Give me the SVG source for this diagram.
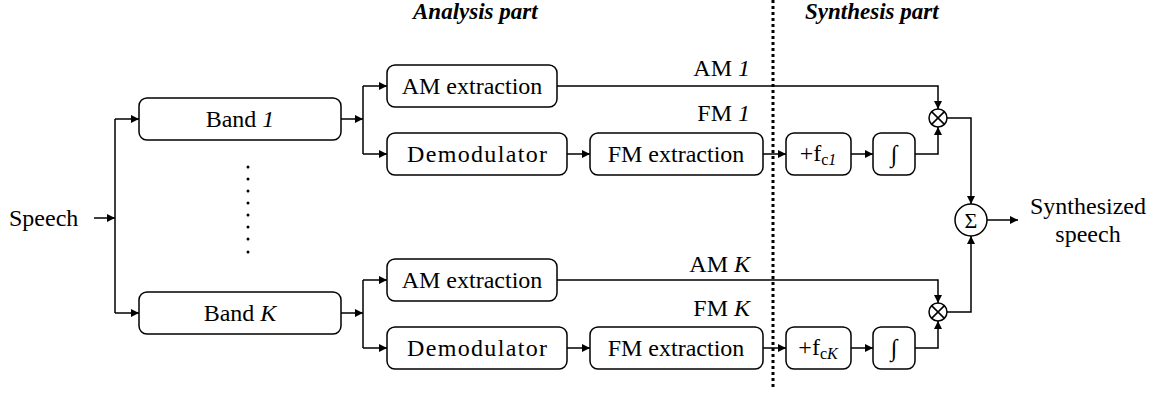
<svg xmlns="http://www.w3.org/2000/svg" width="1156" height="394" viewBox="0 0 1156 394">
<defs>
<marker id="arr" viewBox="0 0 10 10" refX="10" refY="5" markerWidth="8" markerHeight="8" markerUnits="userSpaceOnUse" orient="auto">
<path d="M0,0 L10,5 L0,10 z" fill="#000"/>
</marker>
<style>
.box{fill:#fff;stroke:#000;stroke-width:1.5}
.t{font-family:'Liberation Serif','Times New Roman',serif;font-size:24px;fill:#000}
.c{text-anchor:middle;dominant-baseline:central}
.m{text-anchor:middle}
.r{text-anchor:end}
.h{font-weight:bold;font-style:italic;font-size:23px}
.i{font-style:italic}
.s{font-size:16px}
.ln{fill:none;stroke:#000;stroke-width:1.5}
.a{marker-end:url(#arr)}
</style>
</defs>
<rect width="1156" height="394" fill="#fff"/>
<text class="t h" x="413" y="19">Analysis part</text>
<text class="t h" x="805" y="19">Synthesis part</text>
<line x1="773" y1="0" x2="773" y2="390" stroke="#000" stroke-width="3" stroke-dasharray="3,3"/>
<g id="connectors">
<path class="ln a" d="M94,218 H115"/>
<path class="ln" d="M115,119 V313"/>
<path class="ln a" d="M115,119 H139"/>
<path class="ln a" d="M115,313 H139"/>
<path class="ln a" d="M341,119 H363"/>
<path class="ln" d="M363,86 V154"/>
<path class="ln a" d="M363,86 H387"/>
<path class="ln a" d="M363,154 H387"/>
<path class="ln a" d="M567,154 H590"/>
<path class="ln a" d="M763,154 H786"/>
<path class="ln a" d="M851,154 H873"/>
<path class="ln a" d="M915,154 H938 V127"/>
<path class="ln a" d="M557,86 H938 V109"/>
<path class="ln a" d="M947,118 H971 V204"/>
<path class="ln a" d="M341,313 H363"/>
<path class="ln" d="M363,280 V348"/>
<path class="ln a" d="M363,280 H387"/>
<path class="ln a" d="M363,348 H387"/>
<path class="ln a" d="M567,348 H590"/>
<path class="ln a" d="M763,348 H786"/>
<path class="ln a" d="M851,348 H873"/>
<path class="ln a" d="M915,348 H938 V321"/>
<path class="ln a" d="M557,280 H938 V303"/>
<path class="ln a" d="M947,312 H971 V236"/>
<path class="ln a" d="M987,220 H1018"/>
</g>
<g id="labels">
<text class="t r" x="750" y="76">AM <tspan class="i">1</tspan></text>
<text class="t r" x="750" y="121">FM <tspan class="i">1</tspan></text>
<text class="t r" x="750" y="272">AM <tspan class="i">K</tspan></text>
<text class="t r" x="750" y="316">FM <tspan class="i">K</tspan></text>
</g>
<g id="speech"><text class="t" x="9" y="226">Speech</text></g>
<g id="dots" fill="#000">
<circle cx="248" cy="167" r="1.5"/><circle cx="248" cy="179" r="1.5"/><circle cx="248" cy="191" r="1.5"/><circle cx="248" cy="203" r="1.5"/><circle cx="248" cy="215" r="1.5"/><circle cx="248" cy="227" r="1.5"/><circle cx="248" cy="239" r="1.5"/><circle cx="248" cy="252" r="1.5"/>
</g>
<g id="band1"><rect class="box" x="139" y="98" width="202" height="42" rx="8"/><text class="t c" x="240" y="119">Band <tspan class="i">1</tspan></text></g>
<g id="bandK"><rect class="box" x="139" y="292" width="202" height="42" rx="8"/><text class="t c" x="240" y="313">Band <tspan class="i">K</tspan></text></g>
<g id="am1"><rect class="box" x="387" y="65" width="170" height="42" rx="8"/><text class="t c" x="472" y="86">AM extraction</text></g>
<g id="demod1"><rect class="box" x="387" y="133" width="180" height="42" rx="8"/><text class="t c" x="477" y="154" textLength="140">Demodulator</text></g>
<g id="fm1"><rect class="box" x="590" y="133" width="173" height="42" rx="8"/><text class="t c" x="676" y="154">FM extraction</text></g>
<g id="fc1"><rect class="box" x="786" y="133" width="65" height="42" rx="8"/><text class="t m" x="818" y="161">+f<tspan class="s" dy="4">c</tspan><tspan class="s i">1</tspan></text></g>
<g id="int1"><rect class="box" x="873" y="133" width="42" height="42" rx="8"/><text class="t c" x="894" y="154">∫</text></g>
<g id="mul1"><circle class="ln" cx="938" cy="118" r="9"/><path class="ln" d="M931.6,111.6 L944.4,124.4 M944.4,111.6 L931.6,124.4"/></g>
<g id="amK"><rect class="box" x="387" y="259" width="170" height="42" rx="8"/><text class="t c" x="472" y="280">AM extraction</text></g>
<g id="demodK"><rect class="box" x="387" y="327" width="180" height="42" rx="8"/><text class="t c" x="477" y="348" textLength="140">Demodulator</text></g>
<g id="fmK"><rect class="box" x="590" y="327" width="173" height="42" rx="8"/><text class="t c" x="676" y="348">FM extraction</text></g>
<g id="fcK"><rect class="box" x="786" y="327" width="65" height="42" rx="8"/><text class="t m" x="818" y="355">+f<tspan class="s" dy="4">c</tspan><tspan class="s i">K</tspan></text></g>
<g id="intK"><rect class="box" x="873" y="327" width="42" height="42" rx="8"/><text class="t c" x="894" y="348">∫</text></g>
<g id="mulK"><circle class="ln" cx="938" cy="312" r="9"/><path class="ln" d="M931.6,305.6 L944.4,318.4 M944.4,305.6 L931.6,318.4"/></g>
<g id="sum"><circle class="ln" cx="971" cy="220" r="16"/><text class="t c" x="971" y="220" style="font-size:22px">Σ</text></g>
<g id="out"><text class="t m" x="1088" y="214">Synthesized</text><text class="t m" x="1088" y="242">speech</text></g>
</svg>
